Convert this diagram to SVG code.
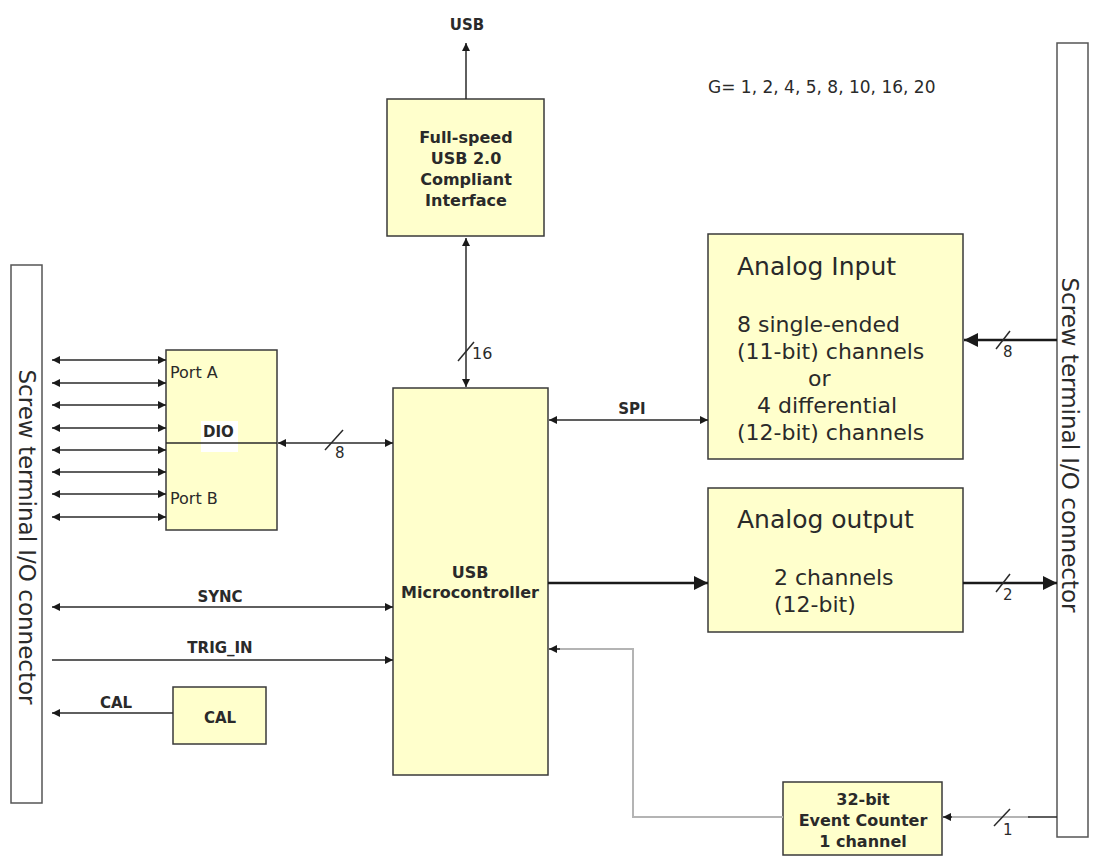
<svg xmlns="http://www.w3.org/2000/svg" width="1108" height="863" viewBox="0 0 1108 863">
<style>
.box{fill:#FFFFCC;stroke:#3a3a3a;stroke-width:1.5}
.conn{fill:#fff;stroke:#555;stroke-width:1.5}
.ln{stroke:#2a2a2a;stroke-width:1.5;fill:none}
.thk{stroke:#1a1a1a;stroke-width:2.5;fill:none}
.gry{stroke:#b4b4b4;stroke-width:2;fill:none}
.sl{stroke:#2a2a2a;stroke-width:1.5}
text{font-family:"DejaVu Sans","Liberation Sans",sans-serif;fill:#2a2a2a}
.b{font-weight:bold;font-size:15px}
.bx{font-weight:bold;font-size:16px;text-anchor:middle}
.r{font-size:16px}
.n{font-size:15px}
.big{font-size:25px}
.mid{font-size:22px}
.vt{font-size:23px;text-anchor:middle}
.c{text-anchor:middle}
</style>
<defs>
<marker id="ah" viewBox="0 0 10 10" refX="10" refY="5" markerWidth="9" markerHeight="8" orient="auto-start-reverse" markerUnits="userSpaceOnUse"><path d="M0,0 L10,5 L0,10 z" fill="#1a1a1a"/></marker>
<marker id="bh" viewBox="0 0 10 10" refX="10" refY="5" markerWidth="16" markerHeight="14" orient="auto" markerUnits="userSpaceOnUse"><path d="M0,0 L10,5 L0,10 z" fill="#1a1a1a"/></marker>
</defs>

<g id="left-connector">
<rect class="conn" x="11" y="265" width="31" height="538"/>
<text class="vt" transform="translate(19,537) rotate(90)">Screw terminal I/O connector</text>
</g>
<g id="right-connector">
<rect class="conn" x="1057" y="43" width="31" height="794"/>
<text class="vt" transform="translate(1062,445) rotate(90)">Screw terminal I/O connector</text>
</g>

<g id="usb-interface">
<rect class="box" x="387" y="99" width="157" height="137"/>
<text class="bx" x="466" y="143">Full-speed</text>
<text class="bx" x="466" y="164">USB 2.0</text>
<text class="bx" x="466" y="185">Compliant</text>
<text class="bx" x="466" y="206">Interface</text>
</g>

<g id="microcontroller">
<rect class="box" x="393" y="388" width="155" height="387"/>
<text class="bx" x="470" y="578">USB</text>
<text class="bx" x="470" y="598">Microcontroller</text>
</g>

<g id="dio">
<rect class="box" x="166" y="350" width="111" height="180"/>
<rect x="201" y="421" width="37" height="31" fill="#fff"/>
<line class="ln" x1="166" y1="443" x2="277" y2="443"/>
<text class="r" x="170" y="378">Port A</text>
<text class="b" x="203" y="437">DIO</text>
<text class="r" x="170" y="504">Port B</text>
</g>

<g id="cal">
<rect class="box" x="173" y="687" width="93" height="57"/>
<text class="b c" x="220" y="723">CAL</text>
</g>

<g id="analog-input">
<rect class="box" x="708" y="234" width="255" height="225"/>
<text class="big" x="737" y="275">Analog Input</text>
<text class="mid" x="737" y="332">8 single-ended</text>
<text class="mid" x="737" y="359">(11-bit) channels</text>
<text class="mid" x="808" y="386">or</text>
<text class="mid" x="757" y="413">4 differential</text>
<text class="mid" x="737" y="440">(12-bit) channels</text>
</g>

<g id="analog-output">
<rect class="box" x="708" y="488" width="255" height="144"/>
<text class="big" x="737" y="528">Analog output</text>
<text class="mid" x="774" y="585">2 channels</text>
<text class="mid" x="774" y="612">(12-bit)</text>
</g>

<g id="event-counter">
<rect class="box" x="783" y="782" width="159" height="73"/>
<text class="bx" x="863" y="805">32-bit</text>
<text class="bx" x="863" y="826">Event Counter</text>
<text class="bx" x="863" y="847">1 channel</text>
</g>

<text id="gain" x="708" y="93" style="font-size:17px">G= 1, 2, 4, 5, 8, 10, 16, 20</text>

<g id="connectors">
<line class="ln" x1="466" y1="99" x2="466" y2="43" marker-end="url(#ah)"/>
<text class="b c" x="467" y="30">USB</text>
<line class="ln" x1="466" y1="238" x2="466" y2="387" marker-start="url(#ah)" marker-end="url(#ah)"/>
<line class="sl" x1="458" y1="361" x2="474" y2="342"/>
<text class="r" x="472" y="359">16</text>
<line class="ln" x1="52" y1="360" x2="166" y2="360" marker-start="url(#ah)" marker-end="url(#ah)"/>
<line class="ln" x1="52" y1="383" x2="166" y2="383" marker-start="url(#ah)" marker-end="url(#ah)"/>
<line class="ln" x1="52" y1="405" x2="166" y2="405" marker-start="url(#ah)" marker-end="url(#ah)"/>
<line class="ln" x1="52" y1="428" x2="166" y2="428" marker-start="url(#ah)" marker-end="url(#ah)"/>
<line class="ln" x1="52" y1="450" x2="166" y2="450" marker-start="url(#ah)" marker-end="url(#ah)"/>
<line class="ln" x1="52" y1="472" x2="166" y2="472" marker-start="url(#ah)" marker-end="url(#ah)"/>
<line class="ln" x1="52" y1="494" x2="166" y2="494" marker-start="url(#ah)" marker-end="url(#ah)"/>
<line class="ln" x1="52" y1="517" x2="166" y2="517" marker-start="url(#ah)" marker-end="url(#ah)"/>
<line class="ln" x1="278" y1="443" x2="393" y2="443" marker-start="url(#ah)" marker-end="url(#ah)"/>
<line class="sl" x1="325" y1="450" x2="343" y2="430"/>
<text class="n" x="335" y="458">8</text>
<line class="ln" x1="52" y1="607" x2="393" y2="607" marker-start="url(#ah)" marker-end="url(#ah)"/>
<text class="b c" x="220" y="602">SYNC</text>
<line class="ln" x1="52" y1="660" x2="393" y2="660" marker-end="url(#ah)"/>
<text class="b c" x="220" y="653">TRIG_IN</text>
<line class="ln" x1="173" y1="713" x2="52" y2="713" marker-end="url(#ah)"/>
<text class="b c" x="116" y="708">CAL</text>
<line class="ln" x1="549" y1="420" x2="708" y2="420" marker-start="url(#ah)" marker-end="url(#ah)"/>
<text class="b c" x="632" y="414">SPI</text>
<line class="thk" x1="1057" y1="340" x2="964" y2="340" marker-end="url(#bh)"/>
<line class="sl" x1="996" y1="349" x2="1010" y2="331"/>
<text class="n" x="1003" y="357">8</text>
<line class="thk" x1="548" y1="583" x2="708" y2="583" marker-end="url(#bh)"/>
<line class="thk" x1="963" y1="583" x2="1057" y2="583" marker-end="url(#bh)"/>
<line class="sl" x1="996" y1="592" x2="1010" y2="574"/>
<text class="n" x="1003" y="600">2</text>
<polyline class="gry" points="783,817 633,817 633,649 553,649"/>
<line class="ln" x1="560" y1="649" x2="549" y2="649" marker-end="url(#ah)"/>
<line class="gry" x1="1030" y1="817" x2="950" y2="817"/>
<line class="ln" x1="1057" y1="817" x2="1028" y2="817"/>
<line class="ln" x1="952" y1="817" x2="943" y2="817" marker-end="url(#ah)"/>
<line class="sl" x1="994" y1="826" x2="1010" y2="809"/>
<text class="n" x="1003" y="835">1</text>
</g>
</svg>
